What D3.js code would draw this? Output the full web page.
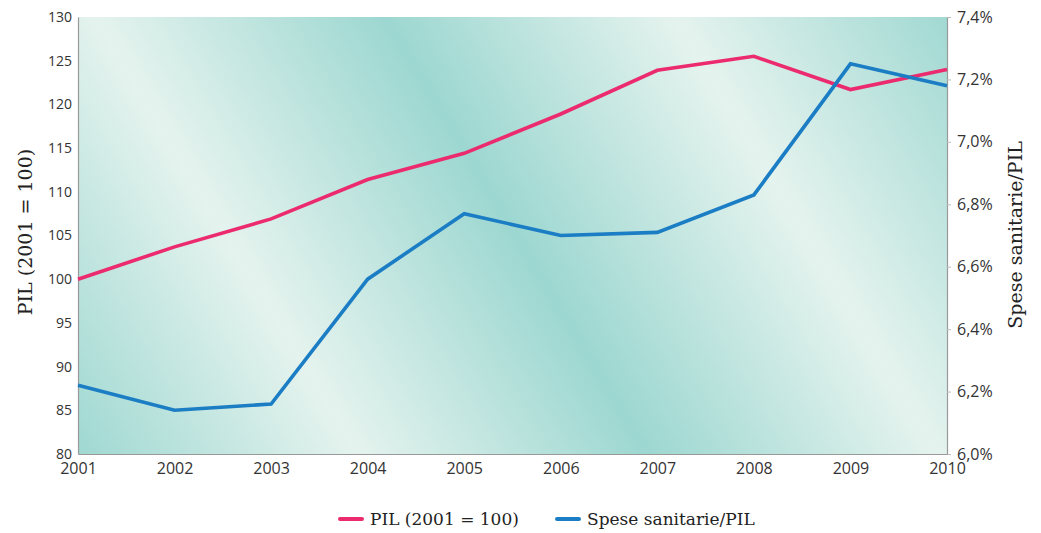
<!DOCTYPE html>
<html><head><meta charset="utf-8">
<script src="https://cdn.jsdelivr.net/npm/d3@7"></script>
<style>
body{margin:0;background:#fff;}
text{font-family:"Open Sans","DejaVu Sans",sans-serif;}
.serif{font-family:"DejaVu Serif","Liberation Serif",serif;}
</style></head><body>
<svg id="c" width="1041" height="533"></svg>
<script>
const years = [2001,2002,2003,2004,2005,2006,2007,2008,2009,2010];
const pil = [100,103.7,106.9,111.4,114.4,118.9,123.9,125.5,121.7,124.0];
const spese = [6.22,6.14,6.16,6.56,6.77,6.70,6.71,6.83,7.25,7.18];
const leftTicks = [80,85,90,95,100,105,110,115,120,125,130];
const rightTicks = [6.0,6.2,6.4,6.6,6.8,7.0,7.2,7.4];
const seriesNames = ["PIL (2001 = 100)","Spese sanitarie/PIL"];
const colors = ["#ec2b6f","#1b7dc4"];

const svg = d3.select("#c");
const L=78, R=947, T=17, B=454;
const x = d3.scaleLinear().domain([2001,2010]).range([L,R]);
const yL = d3.scaleLinear().domain([80,130]).range([B,T]);
const yR = d3.scaleLinear().domain([6.0,7.4]).range([B,T]);

const defs = svg.append("defs");
const g = defs.append("linearGradient").attr("id","bg")
  .attr("gradientUnits","userSpaceOnUse")
  .attr("x1",95).attr("y1",17).attr("x2",521).attr("y2",-239)
  .attr("spreadMethod","repeat");
g.append("stop").attr("offset",0).attr("stop-color","#e5f3ee");
g.append("stop").attr("offset",0.5).attr("stop-color","#9dd7d1");
g.append("stop").attr("offset",1).attr("stop-color","#e5f3ee");

svg.append("rect").attr("x",L).attr("y",T).attr("width",R-L).attr("height",B-T).attr("fill","url(#bg)");

// axes
const axL = d3.axisLeft(yL).tickValues(leftTicks).tickSize(0).tickPadding(6);
const axR = d3.axisRight(yR).tickValues(rightTicks).tickSize(4).tickPadding(6)
  .tickFormat(d=>d3.format(".1f")(d).replace(".",",")+"%");
const axB = d3.axisBottom(x).tickValues(years).tickSize(0).tickPadding(9).tickFormat(d3.format("d"));

function style(sel,fs){
  sel.select(".domain").attr("stroke","#999").attr("stroke-width",1.2);
  sel.selectAll(".tick line").attr("stroke","#bbb");
  sel.selectAll(".tick text").attr("fill","#333").style("font-size",fs+"px");
}
svg.append("g").attr("transform",`translate(${L},0)`).call(axL).call(s=>style(s,14));
svg.append("g").attr("transform",`translate(${R},0)`).call(axR).call(s=>style(s,16));
svg.append("g").attr("transform",`translate(0,${B})`).call(axB).call(s=>style(s,16));

// lines
const lineL = d3.line().x((d,i)=>x(years[i])).y(d=>yL(d));
const lineR = d3.line().x((d,i)=>x(years[i])).y(d=>yR(d));
svg.append("path").datum(pil).attr("d",lineL).attr("fill","none").attr("stroke",colors[0]).attr("stroke-width",3.6);
svg.append("path").datum(spese).attr("d",lineR).attr("fill","none").attr("stroke",colors[1]).attr("stroke-width",3.6);

// titles
svg.append("text").attr("class","serif").attr("transform","translate(32,232) rotate(-90)")
  .attr("text-anchor","middle").attr("fill","#222").style("font-size","19px").text(seriesNames[0]);
svg.append("text").attr("class","serif").attr("transform","translate(1022,235) rotate(-90)")
  .attr("text-anchor","middle").attr("fill","#222").style("font-size","19px").text(seriesNames[1]);

// legend
const lx=[340,557];
seriesNames.forEach((n,i)=>{
  svg.append("line").attr("x1",lx[i]).attr("x2",lx[i]+22).attr("y1",519).attr("y2",519)
    .attr("stroke",colors[i]).attr("stroke-width",4).attr("stroke-linecap","round");
  svg.append("text").attr("class","serif").attr("x",lx[i]+30).attr("y",525).attr("fill","#222")
    .style("font-size","17px").text(n);
});
</script></body></html>
